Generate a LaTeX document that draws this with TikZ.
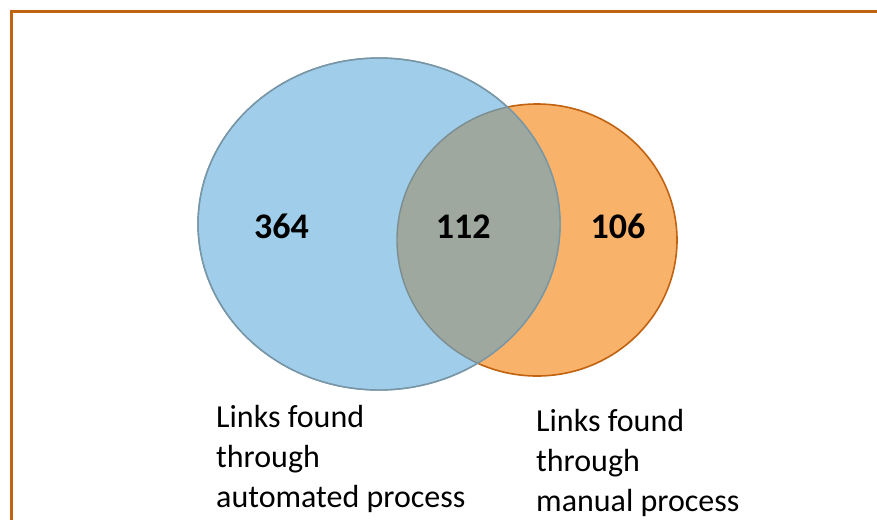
\documentclass[tikz,border=0pt]{standalone}
\usepackage{fontspec}
\setmainfont{Carlito}
\definecolor{bluefill}{RGB}{160,206,234}
\definecolor{blueline}{RGB}{120,150,166}
\definecolor{orfill}{RGB}{248,178,106}
\definecolor{orline}{RGB}{192,98,16}
\definecolor{interfill}{RGB}{158,168,158}
\definecolor{interline}{RGB}{122,142,146}
\definecolor{frame}{RGB}{192,100,18}
\tikzset{
  num/.style={anchor=base,inner sep=0pt,font=\fontsize{36}{40}\selectfont\bfseries},
  lab/.style={anchor=base west,inner sep=0pt,font=\fontsize{32}{40}\selectfont}
}
\begin{document}
\begin{tikzpicture}[x=1pt,y=-1pt]
\useasboundingbox (0,0) rectangle (877,520);
% frame
\draw[frame,line width=3pt] (11.5,520) -- (11.5,11.5) -- (877,11.5);
% orange circle
\fill[orfill] (537,240) ellipse [x radius=140,y radius=136];
\draw[orline,line width=1.6pt] (537,240) ellipse [x radius=140,y radius=136];
% blue ellipse
\fill[bluefill] (379,224) ellipse [x radius=181,y radius=166];
\draw[blueline,line width=1.4pt] (379,224) ellipse [x radius=181,y radius=166];
% intersection
\begin{scope}
\clip (379,224) ellipse [x radius=181,y radius=166];
\fill[interfill] (537,240) ellipse [x radius=140,y radius=136];
\draw[interline,line width=1.4pt] (537,240) ellipse [x radius=140,y radius=136];
\end{scope}
\draw[blueline,line width=1.4pt] (379,224) ellipse [x radius=181,y radius=166];
% numbers
\node[num] (n1) at (281.5,238) {364};
\node[num] (n2) at (463.3,238) {112};
\node[num] (n3) at (618,238) {106};
% labels
\node[lab] (a1) at (216,427) {Links found};
\node[lab] (a2) at (216,467) {through};
\node[lab] (a3) at (216,507) {automated process};
\node[lab] (b1) at (536,431) {Links found};
\node[lab] (b2) at (536,471) {through};
\node[lab] (b3) at (536,511) {manual process};
\end{tikzpicture}
\end{document}
